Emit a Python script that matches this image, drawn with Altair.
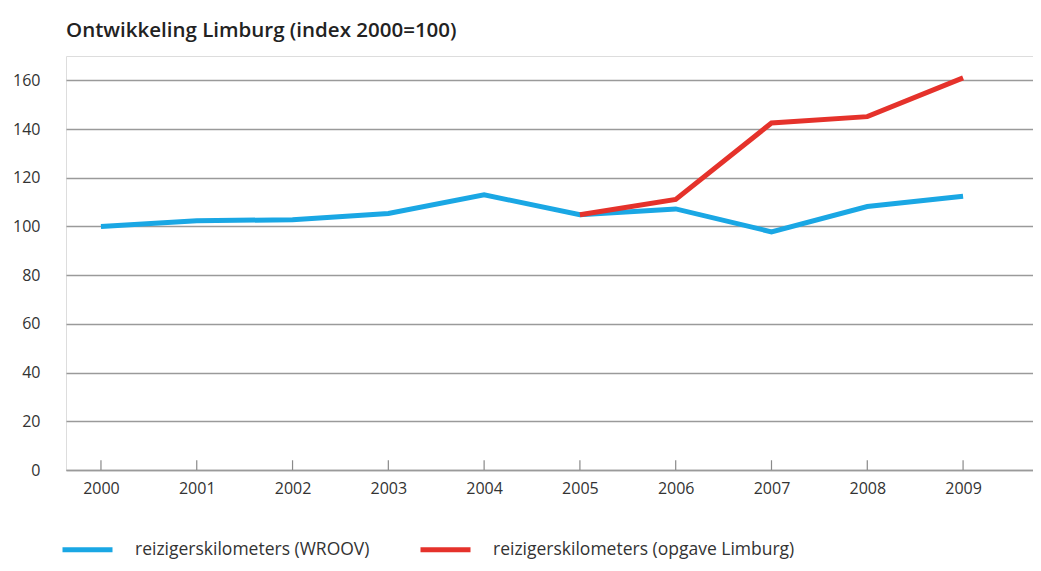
import altair as alt
import pandas as pd

years = [2000, 2001, 2002, 2003, 2004, 2005, 2006, 2007, 2008, 2009]
wroov = [100, 102.3, 102.8, 105.3, 113.0, 104.8, 107.2, 97.8, 108.2, 112.4]
limburg_years = [2005, 2006, 2007, 2008, 2009]
limburg = [104.8, 111.1, 142.5, 145.1, 161.0]
series_names = ["reizigerskilometers (WROOV)", "reizigerskilometers (opgave Limburg)"]
series_colors = ["#1aa7e4", "#e5322b"]
y_ticks = [0, 20, 40, 60, 80, 100, 120, 140, 160]

df_b = pd.DataFrame({"jaar": years, "index": wroov, "reeks": series_names[0]})
df_r = pd.DataFrame({"jaar": limburg_years, "index": limburg, "reeks": series_names[1]})
df_t = pd.DataFrame({"jaar": years})

FONT = "Open Sans"

xscale = alt.Scale(domain=[1999.635, 2009.73], nice=False, zero=False)
yscale = alt.Scale(domain=[0, 170], nice=False)
color = alt.Color("reeks:N",
                  scale=alt.Scale(domain=series_names, range=series_colors),
                  legend=alt.Legend(title=None, orient="none", legendX=-6, legendY=466,
                                    direction="horizontal", symbolType="stroke",
                                    symbolSize=2500, symbolStrokeWidth=5,
                                    labelFont=FONT, labelFontSize=17.5, labelColor="#333",
                                    labelOffset=20, columnPadding=40, labelLimit=400))

x = alt.X("jaar:Q", scale=xscale,
          axis=alt.Axis(title=None, values=years, format="d", grid=False, ticks=False,
                        domain=True, domainColor="#9a9a9a", domainWidth=1.5,
                        labelFont=FONT, labelFontSize=16, labelColor="#333",
                        labelPadding=10))
y = alt.Y("index:Q", scale=yscale,
          axis=alt.Axis(title=None, values=y_ticks, grid=True, gridColor="#9a9a9a",
                        gridWidth=1.5, ticks=False, domain=False,
                        labelFont=FONT, labelFontSize=16, labelColor="#333",
                        labelPadding=26))

blue = alt.Chart(df_b).mark_line(strokeWidth=5, strokeCap="butt").encode(x=x, y=y, color=color)
red = alt.Chart(df_r).mark_line(strokeWidth=5, strokeCap="butt").encode(x=x, y=y, color=color)
ticks = alt.Chart(df_t).mark_rule(color="#8a8a8a", strokeWidth=1.2).encode(
    x=alt.X("jaar:Q", scale=xscale),
    y=alt.Y(datum=0, scale=yscale),
    y2=alt.Y2(datum=4))

chart = alt.layer(ticks, blue, red).properties(
    width=967, height=414,
    title=alt.Title("Ontwikkeling Limburg (index 2000=100)", anchor="start", font=FONT,
                    fontSize=20.5, fontWeight=600, color="#222", offset=15, frame="group"),
    autosize=alt.AutoSizeParams(type="none"),
    padding={"left": 58, "top": 48, "right": 0, "bottom": 92},
).configure_view(stroke=None).configure(background="white")

chart.save("out.html", embed_options={"renderer": "svg", "actions": False})
